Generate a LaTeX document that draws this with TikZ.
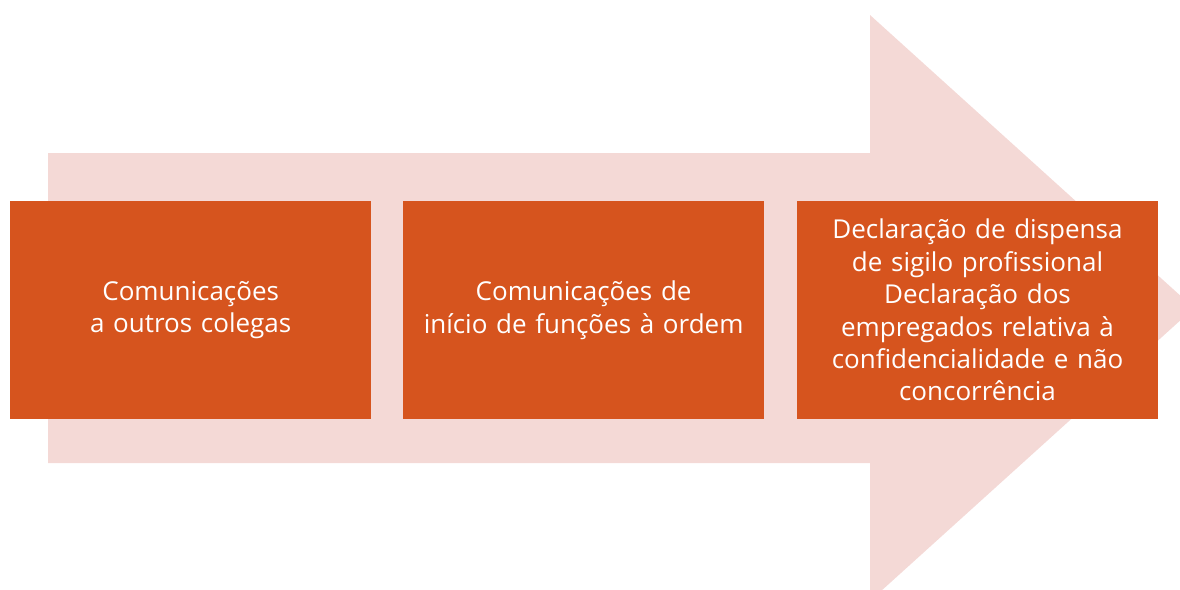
\documentclass[tikz,border=0pt]{standalone}
\usepackage{fontspec}
\setmainfont{Open Sans}
\usetikzlibrary{positioning}
\definecolor{etapa}{HTML}{D6541E}
\definecolor{seta}{HTML}{F4D9D6}
\tikzstyle{block} = [rectangle, fill=etapa, text=white, align=center, text width=350pt, minimum width=361pt, minimum height=218pt, inner sep=0pt, font=\fontsize{26}{32.4}\selectfont]

\begin{document}
\begin{tikzpicture}[x=1pt, y=-1pt, node distance=32pt]
    \useasboundingbox (0,0) rectangle (1180,589);
    \clip (0,0) rectangle (1180,589);
    % seta de fundo
    \fill[seta] (48,153) -- (870,153) -- (870,15) -- (1194,308) -- (870,601) -- (870,463) -- (48,463) -- cycle;

    \node[block, anchor=north west] (colegas) at (10,201) {Comunicações\\a outros colegas};
    \node[block, right=31.5pt of colegas] (inicio) {Comunicações de\\início de funções à ordem};
    \node[block, right=32.5pt of inicio] (declar) {Declaração de dispensa\\de sigilo profissional\\Declaração dos\\empregados relativa à\\confidencialidade e não\\concorrência};
\end{tikzpicture}
\end{document}
